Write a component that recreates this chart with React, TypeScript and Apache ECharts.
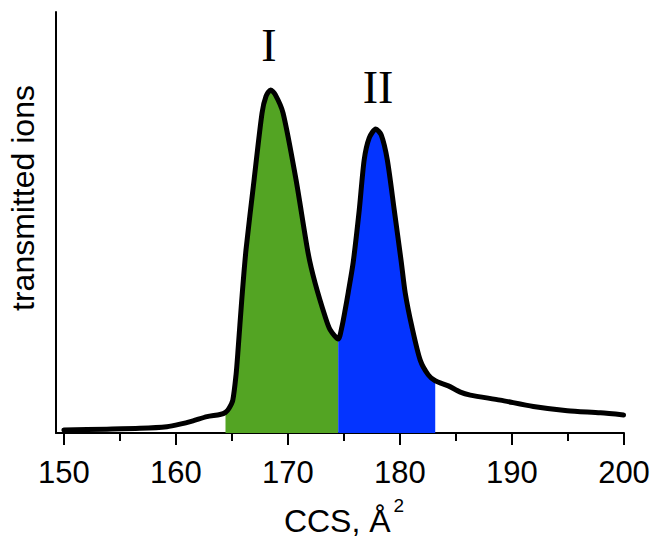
import React, { useEffect, useRef } from "react";
import * as echarts from "echarts";

// CCS (Å²) sampled along the arrival-time trace
const ccsValues = [
  150.0, 153.84, 156.79, 159.2, 160.37, 161.53, 162.78, 163.94, 164.43, 164.75,
  165.08, 165.37, 165.55, 165.88, 166.26, 166.98, 167.69, 168.05, 168.45, 168.85,
  169.57, 170.73, 171.82, 172.43, 173.33, 173.77, 174.49, 174.82, 175.11, 175.38,
  175.83, 176.37, 176.81, 177.26, 177.84, 178.33, 178.87, 179.49, 180.12, 180.47,
  181.07, 181.81, 182.53, 183.15, 184.32, 185.39, 186.28, 188.96, 191.91, 194.95,
  197.9, 199.96,
];
// transmitted ions (arbitrary units)
const ionValues = [
  0.7, 0.9, 1.1, 1.5, 2.1, 2.9, 3.9, 4.4, 4.9, 5.9,
  7.8, 13.8, 19.7, 31.6, 43.5, 60.1, 76.0, 80.0, 81.5, 80.5,
  76.0, 60.1, 42.5, 35.6, 27.6, 24.5, 22.3, 25.2, 29.2, 33.3,
  40.6, 53.0, 64.9, 70.1, 72.2, 70.8, 64.9, 53.0, 40.6, 33.3,
  25.2, 17.3, 13.8, 12.4, 11.2, 9.7, 9.0, 7.8, 6.3, 5.3,
  4.8, 4.3,
];
const majorTicks = [150, 160, 170, 180, 190, 200];
const minorTicks = [155, 165, 175, 185, 195];
const regionI = [164.43, 174.49];
const regionII = [174.49, 183.15];
const peakLabels = ["I", "II"];

const SMOOTH = 0.25;

export default function App() {
  const ref = useRef<HTMLDivElement>(null);
  useEffect(() => {
    if (!ref.current) return;
    const chart = echarts.init(ref.current, null, { renderer: "svg" });
    const points = ccsValues.map((x, i) => [x, ionValues[i]]);
    const inRange = (r: number[]) => points.filter((p) => p[0] >= r[0] && p[0] <= r[1]);
    const sans = "Liberation Sans, Arial, Helvetica, sans-serif";
    chart.setOption({
      animation: false,
      backgroundColor: "#ffffff",
      grid: { left: 56, right: 29, top: 12, bottom: 105, containLabel: false, outerBoundsMode: "none" },
      xAxis: [
        {
          type: "value",
          min: 149.3,
          max: 200,
          splitLine: { show: false },
          axisLine: { show: true, onZero: false, lineStyle: { color: "#000", width: 2 } },
          axisTick: { show: true, customValues: majorTicks, length: 12, lineStyle: { color: "#000", width: 2 } },
          axisLabel: { show: true, customValues: majorTicks, fontSize: 31, color: "#000", fontFamily: sans, margin: 24 },
          name: "{a|CCS, Å}{b|2}",
          nameLocation: "middle",
          nameGap: 63,
          nameTextStyle: {
            rich: {
              a: { fontSize: 32, fontFamily: sans, color: "#000", verticalAlign: "bottom" },
              b: { fontSize: 19, fontFamily: sans, color: "#000", verticalAlign: "bottom", padding: [0, 0, 22, 3] },
            },
            padding: [0, 0, 0, 8],
          },
        },
        {
          type: "value",
          min: 149.3,
          max: 200,
          position: "bottom",
          splitLine: { show: false },
          axisLine: { show: false, onZero: false },
          axisTick: { show: true, customValues: minorTicks, length: 8, lineStyle: { color: "#000", width: 2 } },
          axisLabel: { show: false },
        },
      ],
      yAxis: {
        type: "value",
        min: 0,
        max: 100,
        splitLine: { show: false },
        axisTick: { show: false },
        axisLabel: { show: false },
        axisLine: { show: true, onZero: false, lineStyle: { color: "#000", width: 2 } },
      },
      series: [
        {
          type: "line",
          data: inRange(regionI),
          smooth: SMOOTH,
          showSymbol: false,
          lineStyle: { width: 0 },
          areaStyle: { color: "#53A423", opacity: 1 },
          z: 1,
        },
        {
          type: "line",
          data: inRange(regionII),
          smooth: SMOOTH,
          showSymbol: false,
          lineStyle: { width: 0 },
          areaStyle: { color: "#0434FF", opacity: 1 },
          z: 1,
        },
        {
          type: "line",
          data: points,
          smooth: SMOOTH,
          showSymbol: false,
          lineStyle: { color: "#000", width: 5, cap: "round", join: "round" },
          z: 3,
        },
      ],
      graphic: [
        {
          type: "text",
          x: 269,
          y: 45,
          style: { text: peakLabels[0], font: "46px 'Liberation Serif', 'Times New Roman', serif", fill: "#000", align: "center", verticalAlign: "middle" },
        },
        {
          type: "text",
          x: 378,
          y: 87,
          style: { text: peakLabels[1], font: "46px 'Liberation Serif', 'Times New Roman', serif", fill: "#000", align: "center", verticalAlign: "middle" },
        },
        {
          type: "text",
          x: 23,
          y: 198,
          rotation: Math.PI / 2,
          style: { text: "transmitted ions", font: "32px 'Liberation Sans', Arial, sans-serif", fill: "#000", align: "center", verticalAlign: "middle" },
        },
      ],
    });
    return () => chart.dispose();
  }, []);
  return <div ref={ref} style={{ width: 653, height: 538, position: "absolute", left: 0, top: 0 }} />;
}
